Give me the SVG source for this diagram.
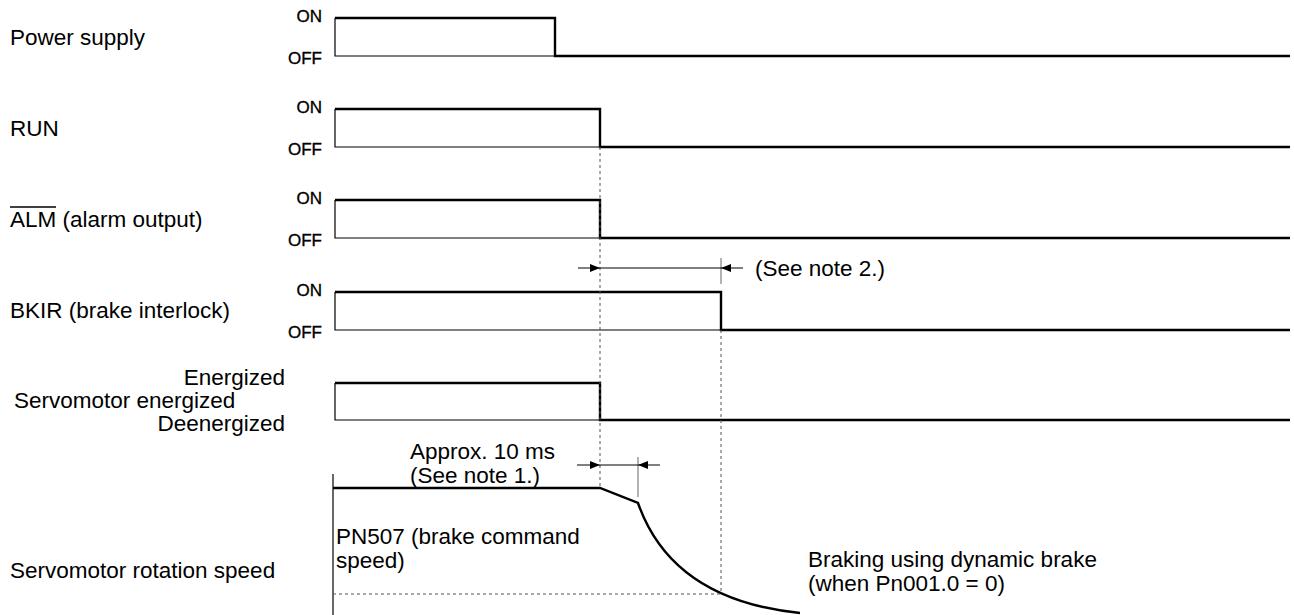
<svg xmlns="http://www.w3.org/2000/svg" width="1294" height="615" viewBox="0 0 1294 615">
<style>
  text { font-family: "Liberation Sans", Arial, sans-serif; fill: #000; }
  .lbl { font-size: 22.5px; }
  .lvl { font-size: 17px; text-anchor: end; stroke: #000; stroke-width: 0.35; }
  .thin { fill: none; stroke: #000; stroke-width: 1.2; }
  .thick { fill: none; stroke: #000; stroke-width: 2.4; stroke-linejoin: miter; }
  .dot { fill: none; stroke: #555; stroke-width: 1; stroke-dasharray: 3 3; }
  .dim { fill: none; stroke: #000; stroke-width: 1; }
  .tick { fill: none; stroke: #666; stroke-width: 1; }
</style>
<defs>
  <marker id="ah" viewBox="0 0 10 8" refX="10" refY="4" markerWidth="10" markerHeight="8" markerUnits="userSpaceOnUse" orient="auto">
    <path d="M0,0 L10,4 L0,8 Z" fill="#000"/>
  </marker>
</defs>
<rect width="1294" height="615" fill="#fff"/>

<g id="power-supply">
  <text class="lbl" x="10" y="45">Power supply</text>
  <text class="lvl" x="322" y="22">ON</text>
  <text class="lvl" x="322" y="64">OFF</text>
  <path class="thin" d="M335,18 V56 H555"/>
  <path class="thick" d="M335,18 H555 V56 H1290"/>
</g>

<g id="run">
  <text class="lbl" x="10" y="136">RUN</text>
  <text class="lvl" x="322" y="113">ON</text>
  <text class="lvl" x="322" y="155">OFF</text>
  <path class="thin" d="M335,109 V147 H600"/>
  <path class="thick" d="M335,109 H600 V147 H1290"/>
</g>

<g id="alm">
  <text class="lbl" x="10" y="227">ALM (alarm output)</text>
  <line x1="10" y1="207" x2="56" y2="207" stroke="#000" stroke-width="1.4"/>
  <text class="lvl" x="322" y="204">ON</text>
  <text class="lvl" x="322" y="246">OFF</text>
  <path class="thin" d="M335,200 V238 H600"/>
  <path class="thick" d="M335,200 H600 V238 H1290"/>
</g>

<g id="bkir">
  <text class="lbl" x="10" y="318">BKIR (brake interlock)</text>
  <text class="lvl" x="322" y="296">ON</text>
  <text class="lvl" x="322" y="338">OFF</text>
  <path class="thin" d="M335,292 V330 H721"/>
  <path class="thick" d="M335,292 H721 V330 H1290"/>
</g>

<g id="servomotor-energized">
  <text class="lbl" x="285" y="385" text-anchor="end">Energized</text>
  <text class="lbl" x="14" y="408">Servomotor energized</text>
  <text class="lbl" x="285" y="431" text-anchor="end">Deenergized</text>
  <path class="thin" d="M335,383 V420 H600"/>
  <path class="thick" d="M335,383 H600 V420 H1290"/>
</g>

<g id="rotation-speed">
  <text class="lbl" x="10" y="578">Servomotor rotation speed</text>
  <line class="thin" x1="333" y1="474" x2="333" y2="615"/>
  <path class="thick" d="M333,488 H600 L638,503 Q672,600 800,613"/>
  <text class="lbl" x="336" y="544">PN507 (brake command</text>
  <text class="lbl" x="336" y="568">speed)</text>
  <text class="lbl" x="808" y="567">Braking using dynamic brake</text>
  <text class="lbl" x="808" y="591">(when Pn001.0 = 0)</text>
</g>

<g id="connectors">
  <path class="dot" d="M600,147 V488"/>
  <path class="dot" d="M721,330 V594"/>
  <path class="dot" d="M333,594 H721"/>
  <line class="tick" x1="721" y1="258" x2="721" y2="284"/>
  <line class="dim" x1="600" y1="268" x2="721" y2="268"/>
  <line class="dim" x1="578" y1="268" x2="600" y2="268" marker-end="url(#ah)"/>
  <line class="dim" x1="743" y1="268" x2="721" y2="268" marker-end="url(#ah)"/>
  <text class="lbl" x="755" y="276">(See note 2.)</text>
  <line class="tick" x1="638" y1="457" x2="638" y2="497"/>
  <line class="dim" x1="600" y1="465" x2="638" y2="465"/>
  <line class="dim" x1="577" y1="465" x2="600" y2="465" marker-end="url(#ah)"/>
  <line class="dim" x1="660" y1="465" x2="638" y2="465" marker-end="url(#ah)"/>
  <text class="lbl" x="410" y="459">Approx. 10 ms</text>
  <text class="lbl" x="410" y="483">(See note 1.)</text>
</g>
</svg>
